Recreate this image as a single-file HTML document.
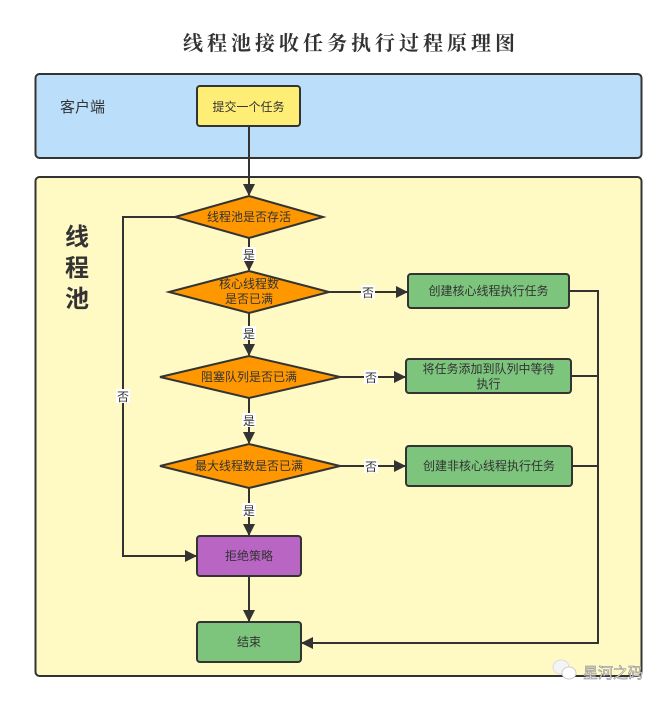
<!DOCTYPE html>
<html><head><meta charset="utf-8"><style>
html,body{margin:0;padding:0;background:#fff;}
svg{display:block;}
text{font-family:"Liberation Sans","Noto Sans CJK SC",sans-serif;fill:#333;}
</style></head><body>
<svg width="667" height="701" viewBox="0 0 667 701" xmlns="http://www.w3.org/2000/svg">
<defs>
<marker id="a" markerWidth="12" markerHeight="12" refX="11" refY="6" orient="auto" markerUnits="userSpaceOnUse">
<path d="M0,0 L12,6 L0,12 Z" fill="#333"/>
</marker>
</defs>
<text x="349" y="50" text-anchor="middle" font-size="20" font-weight="bold" textLength="332" style="font-family:'Noto Serif CJK SC','Liberation Serif',serif">线程池接收任务执行过程原理图</text>
<rect x="35.5" y="74" width="606" height="84" rx="4" fill="#bbdefb" stroke="#333" stroke-width="2"/>
<rect x="35.5" y="177" width="606" height="499" rx="4" fill="#fff9c4" stroke="#333" stroke-width="2"/>
<text x="60" y="112" font-size="15">客户端</text>
<text x="77" y="245" font-size="24" font-weight="bold" text-anchor="middle">线</text>
<text x="77" y="276" font-size="24" font-weight="bold" text-anchor="middle">程</text>
<text x="77" y="307" font-size="24" font-weight="bold" text-anchor="middle">池</text>

<g stroke="#333" stroke-width="2" fill="none">
<line x1="249" y1="126" x2="249" y2="195" marker-end="url(#a)"/>
<line x1="249" y1="238" x2="249" y2="270" marker-end="url(#a)"/>
<line x1="249" y1="313" x2="249" y2="355" marker-end="url(#a)"/>
<line x1="249" y1="398" x2="249" y2="443" marker-end="url(#a)"/>
<line x1="249" y1="488" x2="249" y2="535" marker-end="url(#a)"/>
<line x1="249" y1="576" x2="249" y2="621" marker-end="url(#a)"/>
<line x1="329" y1="292" x2="407" y2="292" marker-end="url(#a)"/>
<line x1="340" y1="377" x2="405" y2="377" marker-end="url(#a)"/>
<line x1="340" y1="466" x2="405" y2="466" marker-end="url(#a)"/>
<polyline points="175,217 123,217 123,556 196,556" marker-end="url(#a)"/>
<polyline points="569,291 598,291 598,643 302,643" marker-end="url(#a)"/>
<line x1="571" y1="376" x2="598" y2="376"/>
<line x1="572" y1="466" x2="598" y2="466"/>
</g>

<rect x="197" y="86" width="103" height="40" rx="3" fill="#ffee75" stroke="#333" stroke-width="2"/>
<text x="248.5" y="111" font-size="12" text-anchor="middle">提交一个任务</text>

<polygon points="175,217 249,196 323,217 249,238" fill="#ff9800" stroke="#333" stroke-width="2"/>
<text x="249" y="221" font-size="12" text-anchor="middle">线程池是否存活</text>
<polygon points="169,292 249,271 329,292 249,313" fill="#ff9800" stroke="#333" stroke-width="2"/>
<text x="249" y="288" font-size="12" text-anchor="middle">核心线程数</text>
<text x="249" y="303" font-size="12" text-anchor="middle">是否已满</text>
<polygon points="160,377 249,356 340,377 249,398" fill="#ff9800" stroke="#333" stroke-width="2"/>
<text x="249" y="381" font-size="12" text-anchor="middle">阻塞队列是否已满</text>
<polygon points="160,466 249,444 340,466 249,488" fill="#ff9800" stroke="#333" stroke-width="2"/>
<text x="249" y="470" font-size="12" text-anchor="middle">最大线程数是否已满</text>

<rect x="408" y="274" width="161" height="34" rx="3" fill="#7dc47d" stroke="#333" stroke-width="2"/>
<text x="488.5" y="295" font-size="12" text-anchor="middle">创建核心线程执行任务</text>
<rect x="406" y="359" width="165" height="34" rx="3" fill="#7dc47d" stroke="#333" stroke-width="2"/>
<text x="488.5" y="373" font-size="12" text-anchor="middle">将任务添加到队列中等待</text>
<text x="488.5" y="388" font-size="12" text-anchor="middle">执行</text>
<rect x="406" y="446" width="166" height="40" rx="3" fill="#7dc47d" stroke="#333" stroke-width="2"/>
<text x="489" y="470" font-size="12" text-anchor="middle">创建非核心线程执行任务</text>

<rect x="197" y="536" width="104" height="40" rx="3" fill="#b865c4" stroke="#333" stroke-width="2"/>
<text x="249" y="560" font-size="12" text-anchor="middle">拒绝策略</text>
<rect x="197" y="622" width="104" height="40" rx="3" fill="#7dc47d" stroke="#333" stroke-width="2"/>
<text x="249" y="646" font-size="12" text-anchor="middle">结束</text>

<g font-size="12" text-anchor="middle">
<rect x="242" y="247" width="14" height="14" fill="#fff"/><text x="249" y="259">是</text>
<rect x="242" y="326" width="14" height="14" fill="#fff"/><text x="249" y="338">是</text>
<rect x="242" y="413" width="14" height="14" fill="#fff"/><text x="249" y="425">是</text>
<rect x="242" y="503" width="14" height="14" fill="#fff"/><text x="249" y="515">是</text>
<rect x="361" y="285" width="14" height="14" fill="#fff"/><text x="368" y="297">否</text>
<rect x="364" y="370" width="14" height="14" fill="#fff"/><text x="371" y="382">否</text>
<rect x="364" y="459" width="14" height="14" fill="#fff"/><text x="371" y="471">否</text>
<rect x="116" y="389" width="14" height="14" fill="#fff"/><text x="123" y="401">否</text>
</g>

<g>
<ellipse cx="561" cy="667" rx="8" ry="7" fill="#f4f4f4" stroke="#ddd"/>
<ellipse cx="569" cy="673" rx="7" ry="6" fill="#fff" stroke="#ccc"/>
<text x="583" y="678" font-size="15" fill="#fff" stroke="#888" stroke-width="0.6" style="fill:#fff">星河之码</text>
</g>
</svg>
</body></html>
